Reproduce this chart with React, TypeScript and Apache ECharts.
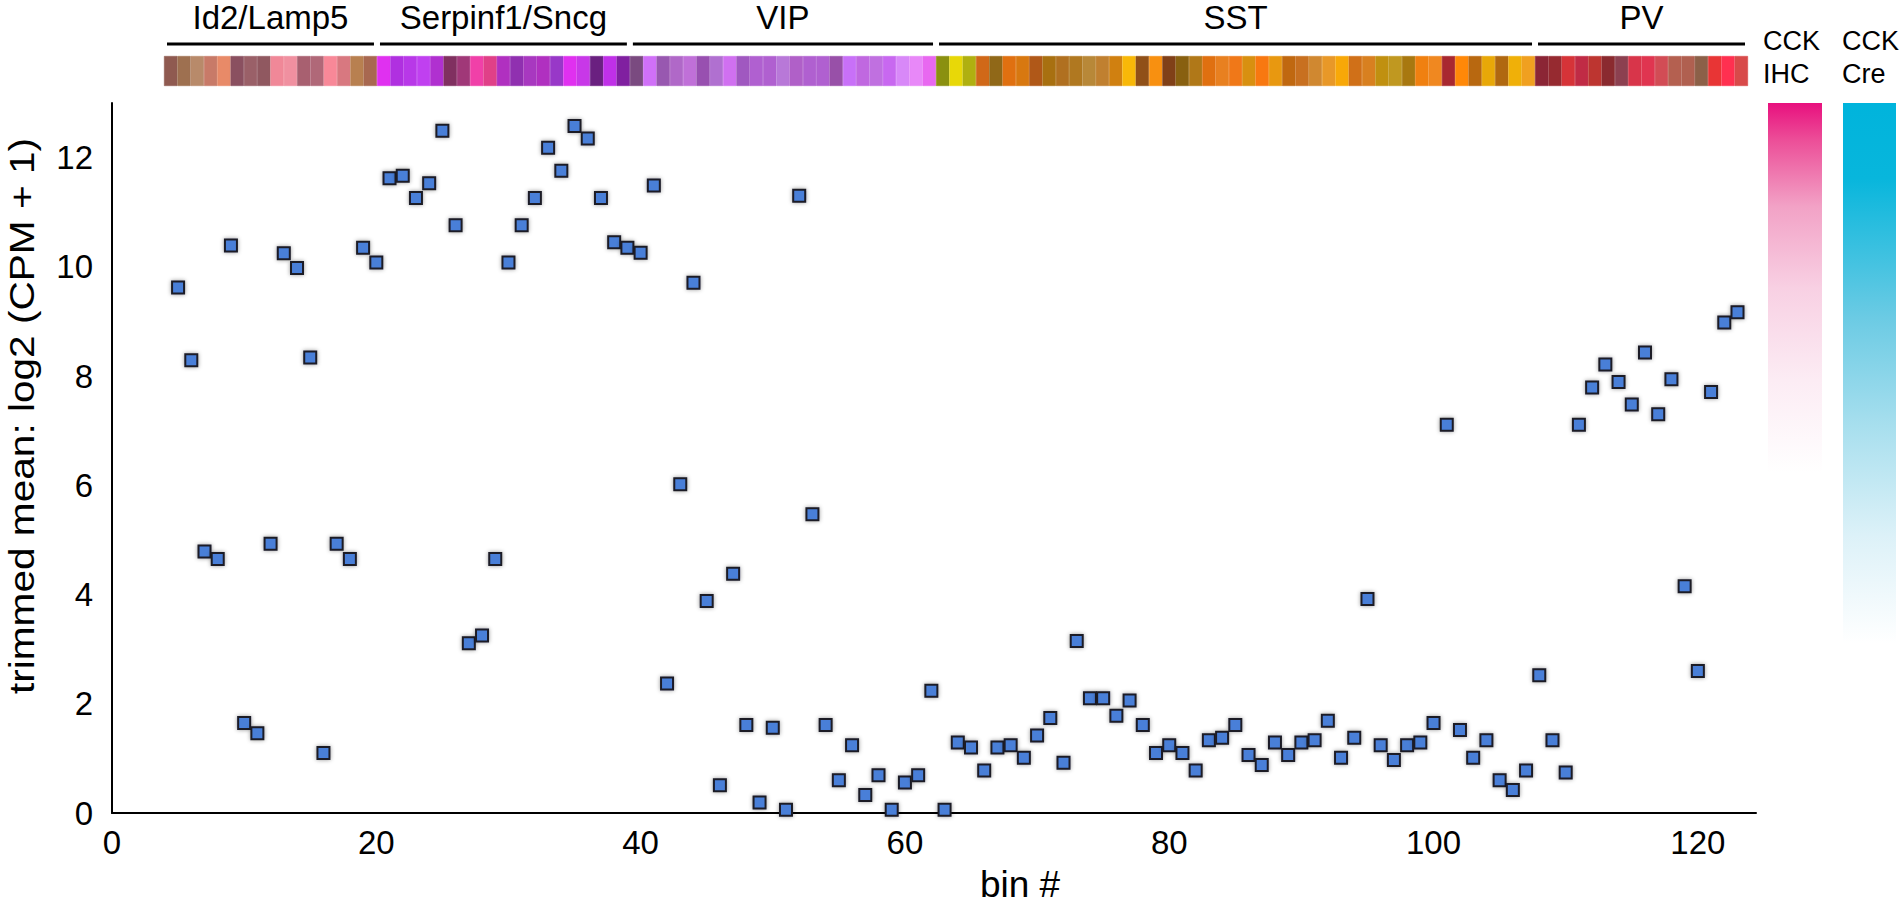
import React, { useEffect, useRef } from "react";
import * as echarts from "echarts";

// ---- data ----
const bins = [
  5, 6, 7, 8, 9, 10, 11, 12, 13, 14, 15, 16, 17, 18, 19, 20, 21, 22, 23, 24,
  25, 26, 27, 28, 29, 30, 31, 32, 33, 34, 35, 36, 37, 38, 39, 40, 41, 42, 43, 44,
  45, 46, 47, 48, 49, 50, 51, 52, 53, 54, 55, 56, 57, 58, 59, 60, 61, 62, 63, 64,
  65, 66, 67, 68, 69, 70, 71, 72, 73, 74, 75, 76, 77, 78, 79, 80, 81, 82, 83, 84,
  85, 86, 87, 88, 89, 90, 91, 92, 93, 94, 95, 96, 97, 98, 99, 100, 101, 102, 103, 104,
  105, 106, 107, 108, 109, 110, 111, 112, 113, 114, 115, 116, 117, 118, 119, 120, 121, 122, 123,
];

const trimmedMean = [
  // bins 5-40
  9.62, 8.29, 4.79, 4.65, 10.39, 1.65, 1.46, 4.93, 10.25, 9.98, 8.34, 1.1, 4.93, 4.65, 10.35, 10.08,
  11.62, 11.67, 11.26, 11.53, 12.49, 10.76, 3.11, 3.25, 4.65, 10.08, 10.76, 11.26, 12.18, 11.76,
  12.58, 12.35, 11.26, 10.45, 10.35, 10.26,
  // bins 41-80
  11.49, 2.37, 6.02, 9.71, 3.88, 0.51, 4.38, 1.61, 0.19, 1.56, 0.06, 11.3, 5.47, 1.61, 0.6, 1.24,
  0.33, 0.69, 0.06, 0.56, 0.69, 2.24, 0.06, 1.29, 1.2, 0.78, 1.2, 1.24, 1.01, 1.42, 1.74, 0.92,
  3.15, 2.1, 2.1, 1.78, 2.06, 1.61, 1.1, 1.24,
  // bins 81-123
  1.1, 0.78, 1.33, 1.38, 1.61, 1.06, 0.88, 1.29, 1.06, 1.29, 1.33, 1.69, 1.01, 1.38, 3.92, 1.24,
  0.97, 1.24, 1.29, 1.65, 7.11, 1.52, 1.01, 1.33, 0.6, 0.42, 0.78, 2.52, 1.33, 0.74, 7.11, 7.79,
  8.21, 7.89, 7.48, 8.43, 7.3, 7.94, 4.15, 2.6, 7.71, 8.98, 9.17,
];

const stripColors = [
  // Id2/Lamp5
  "#8f5a50", "#9e7050", "#b88a6a", "#c87a68", "#e88a68", "#8a5060", "#9a6068", "#905860",
  "#f08898", "#f090a0", "#a86070", "#b06878", "#f88898", "#d87880", "#b88050", "#a86850",
  // Serpinf1/Sncg
  "#e030f0", "#b030e0", "#b838e8", "#c040f0", "#b030d0", "#803060", "#a03878", "#f040a8",
  "#e04088", "#b030c0", "#9030b0", "#a838c0", "#b030c0", "#9838c8", "#e030f0", "#c838e8",
  "#6a2080", "#c030e8", "#8020a0",
  // VIP
  "#7a4a80", "#d070f8", "#9858b0", "#b068c8", "#c070d8", "#9850b0", "#b070d0", "#d070f0",
  "#a058c0", "#b060d0", "#b060d0", "#b878d8", "#b060c8", "#b060d0", "#b060d0", "#9850a8",
  "#c870f8", "#c068e0", "#c070e0", "#c868f0", "#d888f8", "#e888f8", "#e868f0",
  // SST
  "#8a9010", "#e8d808", "#b0b010", "#d06818", "#906818", "#e07010", "#d87810", "#b05818",
  "#a87010", "#b07020", "#b07820", "#b88838", "#c08030", "#d08010", "#f8b808", "#905018",
  "#f89010", "#804018", "#886010", "#b07818", "#e07010", "#e88020", "#f07818", "#d89010",
  "#f87810", "#e89810", "#c06810", "#c87020", "#d08830", "#e89828", "#f8a808", "#d07018",
  "#d88020", "#c09010", "#c09820", "#a87810", "#f08010", "#f08820", "#a82830", "#ff8808",
  "#b86810", "#e8a808", "#b06810", "#f0b008", "#f0a020",
  // PV
  "#8b2535", "#962a30", "#d63338", "#c02b45", "#bd3530", "#8a2a2f", "#8c4050", "#d8354a",
  "#e03550", "#d24c55", "#b46050", "#b06050", "#8c6048", "#e83535", "#ff3050", "#d84a4a",
];

const groupNames = ["Id2/Lamp5", "Serpinf1/Sncg", "VIP", "SST", "PV"];
const groupSizes = [16, 19, 23, 45, 16];

const xTickStep = 20;
const yTickStep = 2;
const xMax = 124.4;
const yMax = 13;

const FONT = "'Liberation Sans', Arial, Helvetica, sans-serif";

export default function App() {
  const ref = useRef<HTMLDivElement>(null);

  useEffect(() => {
    document.body.style.margin = "0";
    if (!ref.current) return;
    const chart = echarts.init(ref.current, undefined, { renderer: "svg" });

    const groups: { name: string; start: number; end: number }[] = [];
    let acc = 0;
    groupNames.forEach((n, i) => {
      groups.push({ name: n, start: acc, end: acc + groupSizes[i] - 1 });
      acc += groupSizes[i];
    });

    const stripCats = bins.map((b) => String(b));

    const option: any = {
      animation: false,
      backgroundColor: "#ffffff",
      grid: [
        { left: 112, right: 145, top: 103, bottom: 91 },
        { left: 164, right: 153, top: 56, height: 30 },
      ],
      xAxis: [
        {
          type: "value",
          gridIndex: 0,
          min: 0,
          max: xMax,
          interval: xTickStep,
          axisLine: { show: true, lineStyle: { color: "#000", width: 2 } },
          axisTick: { show: false },
          splitLine: { show: false },
          axisLabel: {
            color: "#000",
            fontSize: 33,
            fontFamily: FONT,
            margin: 13,
            showMaxLabel: false,
          },
        },
        {
          type: "category",
          gridIndex: 1,
          data: stripCats,
          show: false,
          boundaryGap: true,
        },
      ],
      yAxis: [
        {
          type: "value",
          gridIndex: 0,
          min: 0,
          max: yMax,
          interval: yTickStep,
          axisLine: { show: true, lineStyle: { color: "#000", width: 2 } },
          axisTick: { show: false },
          splitLine: { show: false },
          axisLabel: {
            color: "#000",
            fontSize: 33,
            fontFamily: FONT,
            margin: 19,
            showMaxLabel: false,
          },
        },
        { type: "value", gridIndex: 1, min: 0, max: 1, show: false },
      ],
      series: [
        {
          type: "scatter",
          xAxisIndex: 0,
          yAxisIndex: 0,
          clip: false,
          symbol: "rect",
          symbolSize: 12,
          data: bins.map((b, i) => [b, trimmedMean[i]]),
          itemStyle: {
            color: "#4a7fd8",
            borderColor: "#1c1c28",
            borderWidth: 2,
            opacity: 1,
            shadowBlur: 4,
            shadowColor: "rgba(0,0,0,0.4)",
          },
          z: 5,
        },
        {
          type: "bar",
          xAxisIndex: 1,
          yAxisIndex: 1,
          barWidth: "100%",
          barCategoryGap: 0,
          data: stripColors.map((c) => ({
            value: 1,
            itemStyle: { color: c, borderColor: c, borderWidth: 0.6 },
          })),
        },
        {
          type: "custom",
          xAxisIndex: 1,
          yAxisIndex: 1,
          clip: false,
          data: groups.map((g) => [g.start, 1]),
          renderItem: (params: any, api: any) => {
            const g = groups[params.dataIndex];
            const band = api.size([1, 0])[0];
            const a = api.coord([g.start, 1]);
            const b = api.coord([g.end, 1]);
            const x0 = a[0] - band / 2 + 3;
            const x1 = b[0] + band / 2 - 3;
            const top = a[1];
            return {
              type: "group",
              children: [
                {
                  type: "line",
                  shape: { x1: x0, y1: top - 12, x2: x1, y2: top - 12 },
                  style: { stroke: "#000", lineWidth: 3 },
                },
                {
                  type: "text",
                  style: {
                    text: g.name,
                    x: (x0 + x1) / 2,
                    y: top - 39,
                    align: "center",
                    verticalAlign: "middle",
                    textAlign: "center",
                    textVerticalAlign: "middle",
                    fontSize: 33,
                    fontFamily: FONT,
                    fill: "#000",
                  },
                },
              ],
            };
          },
        },
      ],
      graphic: [
        {
          type: "rect",
          shape: { x: 1768, y: 103, width: 54, height: 370 },
          style: {
            fill: new echarts.graphic.LinearGradient(0, 0, 0, 1, [
              { offset: 0, color: "#e8107e" },
              { offset: 0.1, color: "#ec4e98" },
              { offset: 0.28, color: "#f2a2c6" },
              { offset: 0.5, color: "#f8d0e3" },
              { offset: 0.75, color: "#fcecf4" },
              { offset: 1, color: "#ffffff" },
            ]),
          },
        },
        {
          type: "rect",
          shape: { x: 1843, y: 103, width: 53, height: 540 },
          style: {
            fill: new echarts.graphic.LinearGradient(0, 0, 0, 1, [
              { offset: 0, color: "#00b4dc" },
              { offset: 0.14, color: "#08b6dc" },
              { offset: 0.4, color: "#6ccbe4" },
              { offset: 0.6, color: "#a8dfee" },
              { offset: 0.8, color: "#dcf1f8" },
              { offset: 1, color: "#ffffff" },
            ]),
          },
        },
        ...[
          { t: "CCK", x: 1763, y: 41 },
          { t: "IHC", x: 1763, y: 74 },
          { t: "CCK", x: 1842, y: 41 },
          { t: "Cre", x: 1842, y: 74 },
        ].map((d) => ({
          type: "text",
          x: d.x,
          y: d.y,
          style: {
            text: d.t,
            align: "left",
            verticalAlign: "middle",
            textAlign: "left",
            textVerticalAlign: "middle",
            fontSize: 27,
            fontFamily: FONT,
            fill: "#000",
          },
        })),
        {
          type: "text",
          x: 1020,
          y: 884,
          style: {
            text: "bin #",
            align: "center",
            verticalAlign: "middle",
            textAlign: "center",
            textVerticalAlign: "middle",
            fontSize: 37,
            fontFamily: FONT,
            fill: "#000",
          },
        },
        {
          type: "text",
          x: 22,
          y: 416,
          rotation: Math.PI / 2,
          scaleX: 1.16,
          style: {
            text: "trimmed mean: log2 (CPM + 1)",
            align: "center",
            verticalAlign: "middle",
            textAlign: "center",
            textVerticalAlign: "middle",
            fontSize: 35,
            fontFamily: FONT,
            fill: "#000",
          },
        },
      ],
    };

    chart.setOption(option);
    return () => {
      chart.dispose();
    };
  }, []);

  return <div ref={ref} style={{ width: 1901, height: 904 }} />;
}
